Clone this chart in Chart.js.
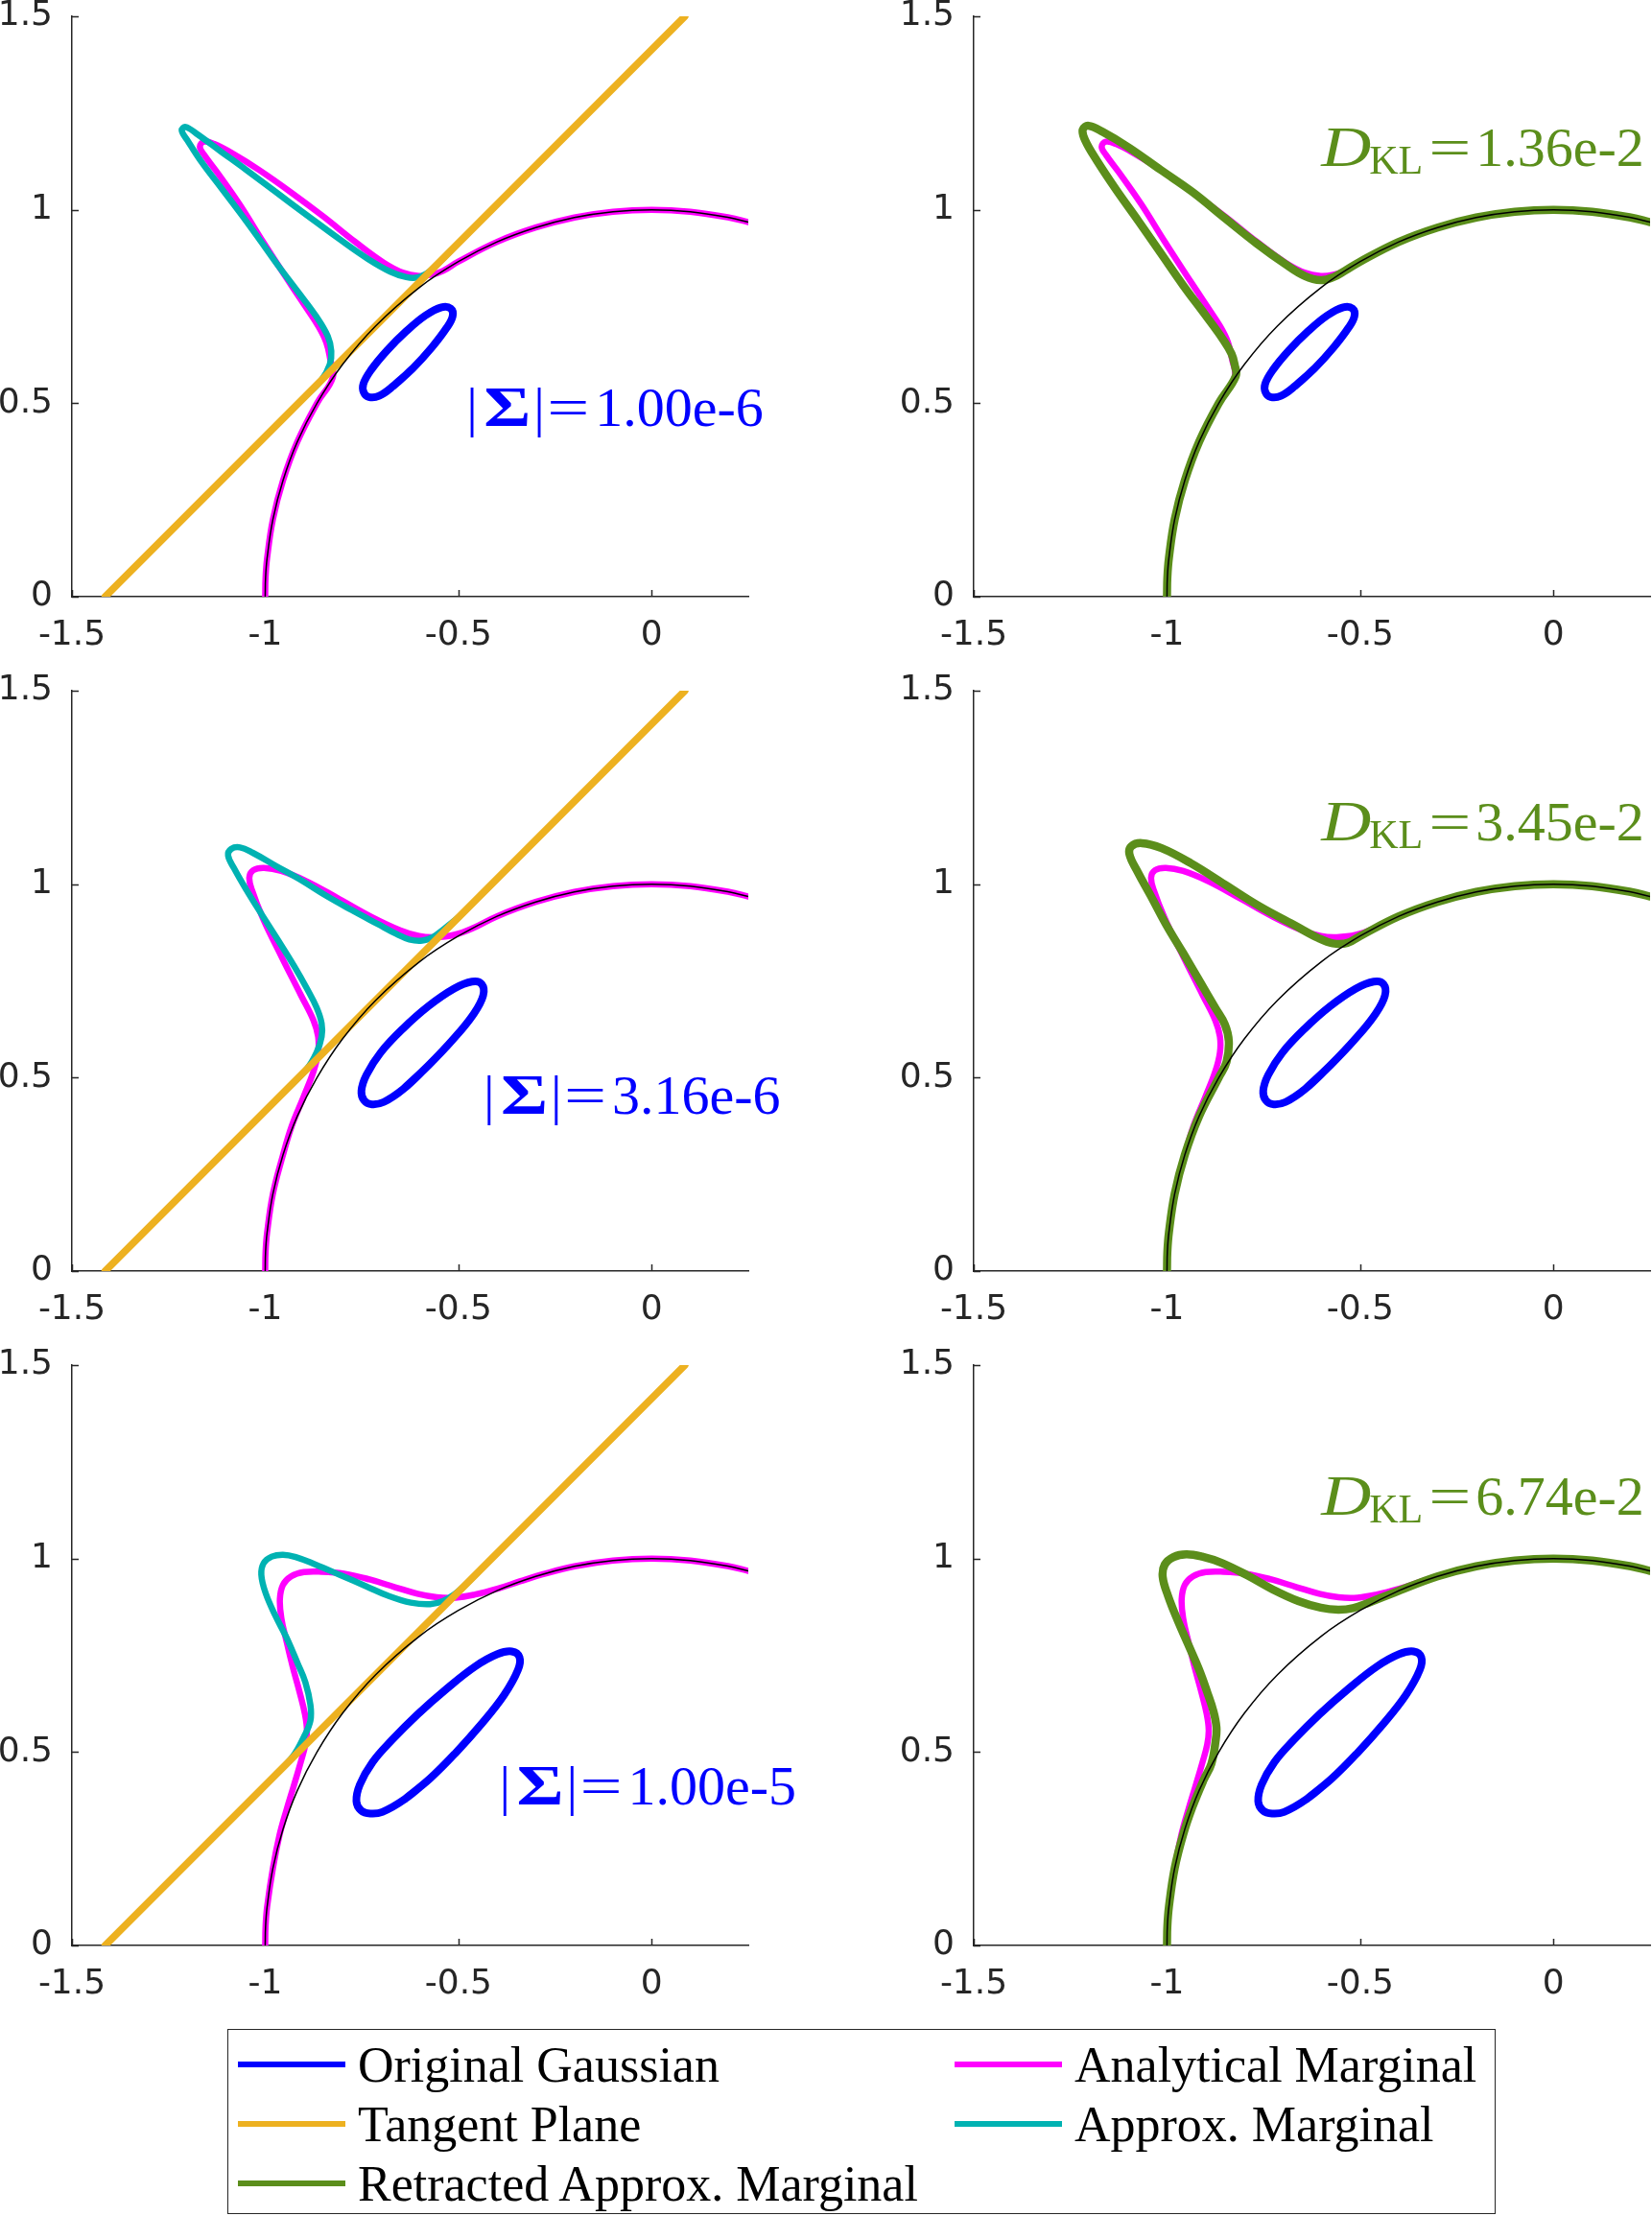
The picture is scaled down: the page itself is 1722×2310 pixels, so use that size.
<!DOCTYPE html>
<html>
<head>
<meta charset="utf-8">
<script src="https://cdn.jsdelivr.net/npm/chart.js@4.4.1/dist/chart.umd.min.js"></script>
<style>
  body { margin: 0; background: #fff; }
  #page { position: relative; width: 1722px; height: 2310px; overflow: hidden; background: #fff; }
  canvas { position: absolute; }
  #legendBox { position: absolute; left: 237px; top: 2115px; width: 1322px; height: 193px;
    border: 1.5px solid #262626; box-sizing: border-box; }
  .item { position: absolute; display: flex; align-items: center; height: 52px; white-space: nowrap;
    font-family: "Liberation Serif", serif; font-size: 52px; color: #000; }
  .swatch { width: 112px; height: 6px; margin-right: 13px; }
</style>
</head>
<body>
<div id="page">
  <canvas id="p1" width="860" height="708" style="left:0px;top:-26px"></canvas>
  <canvas id="p2" width="782" height="708" style="left:940px;top:-26px"></canvas>
  <canvas id="p3" width="860" height="708" style="left:0px;top:677px"></canvas>
  <canvas id="p4" width="782" height="708" style="left:940px;top:677px"></canvas>
  <canvas id="p5" width="860" height="708" style="left:0px;top:1380px"></canvas>
  <canvas id="p6" width="782" height="708" style="left:940px;top:1380px"></canvas>
  <div id="legendBox"></div>
</div>
<script>
// axis ticks
const xTicks = [-1.5, -1, -0.5, 0];
const yTicks = [0, 0.5, 1, 1.5];

// manifold (unit circle arc) and tangent plane
const arcPts = [[-1,0],[-0.999,0.05],[-0.995,0.1],[-0.98,0.2],[-0.954,0.3],[-0.917,0.4],[-0.866,0.5],[-0.8,0.6],[-0.714,0.7],[-0.6,0.8],[-0.5,0.866],[-0.4,0.917],[-0.3,0.954],[-0.2,0.98],[-0.1,0.995],[0,1],[0.1,0.995],[0.2,0.98],[0.25,0.968]];
const tangentPts = [[-1.414,0],[0.086,1.5]];

// row 1
const gauss1 = [[-0.668,0.545],[-0.618,0.59],[-0.569,0.644],[-0.531,0.694],[-0.515,0.725],[-0.52,0.745],[-0.544,0.748],[-0.585,0.727],[-0.635,0.686],[-0.685,0.636],[-0.726,0.586],[-0.746,0.55],[-0.745,0.528],[-0.732,0.516],[-0.705,0.519]];
const analytic1 = [[-1,0],[-0.999,0.05],[-0.995,0.1],[-0.98,0.2],[-0.954,0.3],[-0.917,0.4],[-0.866,0.5],[-0.825,0.567],[-0.832,0.615],[-0.842,0.657],[-0.862,0.698],[-0.9,0.756],[-0.949,0.83],[-1.008,0.921],[-1.065,1.012],[-1.123,1.095],[-1.158,1.142],[-1.169,1.163],[-1.158,1.176],[-1.132,1.17],[-1.082,1.144],[-1.016,1.103],[-0.933,1.045],[-0.85,0.983],[-0.767,0.917],[-0.693,0.863],[-0.643,0.837],[-0.602,0.829],[-0.57,0.832],[-0.54,0.842],[-0.5,0.866],[-0.4,0.917],[-0.3,0.954],[-0.2,0.98],[-0.1,0.995],[0,1],[0.1,0.995],[0.2,0.98],[0.25,0.968]];
const approx1 = [[-0.9,0.514],[-0.855,0.559],[-0.833,0.6],[-0.829,0.635],[-0.838,0.673],[-0.867,0.723],[-0.916,0.789],[-0.966,0.855],[-1.016,0.925],[-1.065,0.992],[-1.115,1.058],[-1.165,1.124],[-1.199,1.176],[-1.216,1.205],[-1.206,1.214],[-1.178,1.197],[-1.115,1.151],[-1.049,1.103],[-0.974,1.047],[-0.892,0.986],[-0.809,0.925],[-0.734,0.873],[-0.676,0.84],[-0.635,0.826],[-0.606,0.825],[-0.581,0.836],[-0.562,0.852],[-0.52,0.894]];
const retracted1 = [[-1,0],[-0.999,0.05],[-0.995,0.1],[-0.98,0.2],[-0.954,0.3],[-0.917,0.4],[-0.866,0.5],[-0.822,0.57],[-0.825,0.6],[-0.833,0.628],[-0.855,0.665],[-0.9,0.727],[-0.959,0.806],[-1.016,0.888],[-1.074,0.971],[-1.133,1.054],[-1.182,1.128],[-1.212,1.18],[-1.218,1.207],[-1.203,1.217],[-1.166,1.201],[-1.099,1.161],[-1.016,1.103],[-0.934,1.046],[-0.851,0.979],[-0.768,0.913],[-0.693,0.859],[-0.644,0.829],[-0.602,0.818],[-0.569,0.826],[-0.54,0.842],[-0.5,0.866],[-0.4,0.917],[-0.3,0.954],[-0.2,0.98],[-0.1,0.995],[0,1],[0.1,0.995],[0.2,0.98],[0.25,0.968]];

// row 2
const gauss2 = [[-0.643,0.47],[-0.577,0.532],[-0.511,0.602],[-0.461,0.664],[-0.436,0.712],[-0.44,0.742],[-0.465,0.748],[-0.511,0.73],[-0.577,0.685],[-0.643,0.627],[-0.701,0.565],[-0.738,0.507],[-0.751,0.466],[-0.744,0.441],[-0.724,0.431],[-0.693,0.437]];
const analytic2 = [[-1,0],[-0.999,0.05],[-0.995,0.1],[-0.98,0.2],[-0.954,0.3],[-0.931,0.376],[-0.9,0.452],[-0.875,0.516],[-0.863,0.565],[-0.863,0.606],[-0.875,0.648],[-0.908,0.714],[-0.958,0.813],[-1.006,0.912],[-1.034,0.984],[-1.041,1.017],[-1.031,1.036],[-1.003,1.042],[-0.958,1.034],[-0.892,1.007],[-0.809,0.962],[-0.726,0.916],[-0.651,0.881],[-0.602,0.866],[-0.561,0.863],[-0.511,0.869],[-0.461,0.887],[-0.4,0.917],[-0.3,0.954],[-0.2,0.98],[-0.1,0.995],[0,1],[0.1,0.995],[0.2,0.98],[0.25,0.968]];
const approx2 = [[-0.95,0.464],[-0.892,0.523],[-0.867,0.565],[-0.854,0.606],[-0.854,0.64],[-0.867,0.681],[-0.892,0.73],[-0.925,0.788],[-0.966,0.854],[-1.008,0.92],[-1.049,0.986],[-1.08,1.04],[-1.096,1.074],[-1.088,1.091],[-1.065,1.095],[-1.032,1.081],[-0.974,1.048],[-0.908,1.011],[-0.842,0.97],[-0.776,0.933],[-0.709,0.897],[-0.66,0.871],[-0.627,0.857],[-0.594,0.854],[-0.565,0.864],[-0.54,0.882],[-0.5,0.914]];
const retracted2 = [[-1,0],[-0.999,0.05],[-0.995,0.1],[-0.98,0.2],[-0.954,0.3],[-0.917,0.4],[-0.866,0.5],[-0.846,0.54],[-0.84,0.594],[-0.85,0.637],[-0.875,0.68],[-0.913,0.745],[-0.957,0.82],[-1.002,0.895],[-1.042,0.97],[-1.077,1.034],[-1.097,1.077],[-1.092,1.098],[-1.065,1.106],[-1.014,1.093],[-0.938,1.054],[-0.85,0.999],[-0.761,0.943],[-0.672,0.895],[-0.609,0.861],[-0.571,0.847],[-0.533,0.848],[-0.5,0.866],[-0.4,0.917],[-0.3,0.954],[-0.2,0.98],[-0.1,0.995],[0,1],[0.1,0.995],[0.2,0.98],[0.25,0.968]];

// row 3
const gauss3 = [[-0.639,0.378],[-0.573,0.432],[-0.507,0.498],[-0.44,0.573],[-0.382,0.647],[-0.346,0.712],[-0.342,0.745],[-0.362,0.76],[-0.399,0.753],[-0.457,0.721],[-0.531,0.663],[-0.606,0.597],[-0.672,0.531],[-0.722,0.474],[-0.755,0.416],[-0.764,0.373],[-0.752,0.349],[-0.728,0.341],[-0.697,0.345]];
const analytic3 = [[-1,0],[-0.999,0.05],[-0.995,0.1],[-0.98,0.2],[-0.963,0.285],[-0.945,0.35],[-0.925,0.416],[-0.908,0.474],[-0.896,0.519],[-0.892,0.556],[-0.897,0.597],[-0.911,0.655],[-0.929,0.721],[-0.945,0.787],[-0.958,0.845],[-0.962,0.895],[-0.954,0.932],[-0.933,0.954],[-0.9,0.965],[-0.854,0.966],[-0.796,0.961],[-0.73,0.946],[-0.664,0.926],[-0.606,0.909],[-0.556,0.9],[-0.507,0.899],[-0.457,0.907],[-0.399,0.922],[-0.341,0.941],[-0.283,0.959],[-0.2,0.98],[-0.1,0.995],[0,1],[0.1,0.995],[0.2,0.98],[0.25,0.968]];
const approx3 = [[-0.98,0.434],[-0.929,0.488],[-0.9,0.539],[-0.883,0.581],[-0.883,0.622],[-0.896,0.68],[-0.916,0.729],[-0.945,0.796],[-0.974,0.853],[-0.999,0.911],[-1.01,0.958],[-1.004,0.988],[-0.983,1.005],[-0.954,1.01],[-0.921,1.004],[-0.871,0.985],[-0.805,0.957],[-0.738,0.928],[-0.68,0.903],[-0.623,0.886],[-0.573,0.882],[-0.54,0.89],[-0.511,0.907],[-0.482,0.932],[-0.45,0.964]];
const retracted3 = [[-1,0],[-0.999,0.05],[-0.995,0.1],[-0.98,0.2],[-0.958,0.287],[-0.934,0.358],[-0.905,0.428],[-0.885,0.47],[-0.874,0.53],[-0.872,0.564],[-0.88,0.606],[-0.896,0.655],[-0.917,0.713],[-0.942,0.771],[-0.971,0.837],[-0.997,0.903],[-1.011,0.952],[-1.006,0.984],[-0.983,1.004],[-0.95,1.011],[-0.909,1.005],[-0.859,0.989],[-0.793,0.957],[-0.726,0.92],[-0.66,0.89],[-0.602,0.873],[-0.557,0.868],[-0.519,0.872],[-0.478,0.886],[-0.412,0.912],[-0.3,0.954],[-0.2,0.98],[-0.1,0.995],[0,1],[0.1,0.995],[0.2,0.98],[0.25,0.968]];

// annotation values
const sigmaDets = ["1.00e-6", "3.16e-6", "1.00e-5"];
const klValues = ["1.36e-2", "3.45e-2", "6.74e-2"];

const legendNames = ["Original Gaussian", "Analytical Marginal", "Tangent Plane", "Approx. Marginal", "Retracted Approx. Marginal"];

const BLUE = "#0000ff", MAGENTA = "#ff00ff", TEAL = "#00b2b2", YELLOW = "#edb120", GREEN = "#5b8e1b", AXIS = "#262626";
const legendColors = [BLUE, MAGENTA, YELLOW, TEAL, GREEN];

function toXY(pts) { return pts.map(p => ({ x: p[0], y: p[1] })); }
function closeLoop(pts) { return pts.concat(pts.slice(0, 2)); }

function line(pts, color, width, tension) {
  return {
    data: toXY(pts), showLine: true, borderColor: color, backgroundColor: color,
    borderWidth: width, pointRadius: 0, tension: tension, fill: false, clip: 0,
    borderCapStyle: "round", borderJoinStyle: "round"
  };
}

// inward tick marks like MATLAB axes
const inwardTicks = {
  id: "inwardTicks",
  beforeDatasetsDraw(chart) {
    const { ctx, chartArea, scales } = chart;
    ctx.save();
    ctx.strokeStyle = AXIS;
    ctx.lineWidth = 1.5;
    ctx.beginPath();
    xTicks.forEach(v => {
      const px = Math.round(scales.x.getPixelForValue(v)) + 0.5;
      ctx.moveTo(px, chartArea.bottom);
      ctx.lineTo(px, chartArea.bottom - 7);
    });
    yTicks.forEach(v => {
      const py = Math.round(scales.y.getPixelForValue(v)) + 0.5;
      ctx.moveTo(chartArea.left, py);
      ctx.lineTo(chartArea.left + 7, py);
    });
    ctx.stroke();
    ctx.restore();
  }
};

// text stretched horizontally (TeX glyphs are wider than Times)
function wideText(ctx, str, x, y, sx) {
  ctx.save();
  ctx.translate(x, y);
  ctx.scale(sx, 1);
  ctx.fillText(str, 0, 0);
  ctx.restore();
}

function sigmaLabel(text, ax, ay) {
  return {
    id: "sigmaLabel",
    afterDatasetsDraw(chart) {
      const ctx = chart.ctx;
      const x0 = chart.scales.x.getPixelForValue(ax);
      const y0 = chart.scales.y.getPixelForValue(ay);
      ctx.save();
      ctx.fillStyle = BLUE;
      ctx.textBaseline = "alphabetic";
      ctx.textAlign = "left";
      ctx.font = '58px "Liberation Serif"';
      ctx.fillText("|", x0, y0);
      ctx.font = 'bold 60px "Liberation Serif"';
      wideText(ctx, "\u03A3", x0 + 18, y0, 1.25);
      ctx.font = '58px "Liberation Serif"';
      ctx.fillText("|", x0 + 70, y0);
      wideText(ctx, "=", x0 + 84, y0, 1.35);
      ctx.fillText(text, x0 + 134, y0);
      ctx.restore();
    }
  };
}

function klLabel(text, ax, ay) {
  return {
    id: "klLabel",
    afterDatasetsDraw(chart) {
      const ctx = chart.ctx;
      const x0 = chart.scales.x.getPixelForValue(ax);
      const y0 = chart.scales.y.getPixelForValue(ay);
      ctx.save();
      ctx.fillStyle = GREEN;
      ctx.textBaseline = "alphabetic";
      ctx.textAlign = "left";
      ctx.font = 'italic 60px "Liberation Serif"';
      wideText(ctx, "D", x0, y0, 1.2);
      ctx.font = '42px "Liberation Serif"';
      ctx.fillText("KL", x0 + 50, y0 + 8);
      ctx.font = '58px "Liberation Serif"';
      wideText(ctx, "=", x0 + 112, y0, 1.35);
      ctx.fillText(text, x0 + 161, y0);
      ctx.restore();
    }
  };
}

function makePanel(id, datasets, padRight, label) {
  const tickFont = { family: "DejaVu Sans", size: 36 };
  new Chart(document.getElementById(id), {
    type: "scatter",
    data: { datasets: datasets },
    options: {
      responsive: false,
      animation: false,
      devicePixelRatio: 1,
      events: [],
      layout: { padding: { top: 43, right: padRight, left: 0, bottom: 0 } },
      plugins: { legend: { display: false }, tooltip: { enabled: false } },
      scales: {
        x: {
          type: "linear", min: -1.5, max: 0.25,
          afterBuildTicks: s => { s.ticks = xTicks.map(v => ({ value: v })); },
          afterFit: s => { s.height = 60; },
          grid: { display: false, drawTicks: false },
          border: { display: true, color: AXIS, width: 1.5 },
          ticks: { padding: 19, font: tickFont, color: AXIS, maxRotation: 0, autoSkip: false, callback: v => String(v) }
        },
        y: {
          type: "linear", min: 0, max: 1.5,
          afterBuildTicks: s => { s.ticks = yTicks.map(v => ({ value: v })); },
          afterFit: s => { s.width = 75; },
          grid: { display: false, drawTicks: false },
          border: { display: true, color: AXIS, width: 1.5 },
          ticks: { padding: 20, font: tickFont, color: AXIS, autoSkip: false, callback: v => String(v) }
        }
      }
    },
    plugins: [inwardTicks, label]
  });
}

function leftPanel(id, gauss, analytic, approx, sigmaText, ax, ay) {
  makePanel(id, [
    line(closeLoop(gauss), BLUE, 8, 0.4),
    line(arcPts, "#000000", 1.5, 0.4),
    line(tangentPts, YELLOW, 7.5, 0),
    line(approx, TEAL, 6.5, 0.4),
    line(analytic, MAGENTA, 6.5, 0.4)
  ], 80, sigmaLabel(sigmaText, ax, ay));
}

function rightPanel(id, gauss, analytic, retracted, klText) {
  makePanel(id, [
    line(closeLoop(gauss), BLUE, 8, 0.4),
    line(arcPts, "#000000", 1.5, 0.4),
    line(retracted, GREEN, 8.5, 0.4),
    line(analytic, MAGENTA, 6.5, 0.4)
  ], 2, klLabel(klText, -0.601, 1.112));
}

function buildLegend() {
  const page = document.getElementById("page");
  const slots = [[248, 2126], [995, 2126], [248, 2188], [995, 2188], [248, 2250]];
  legendNames.forEach((name, i) => {
    const item = document.createElement("div");
    item.className = "item";
    item.style.left = slots[i][0] + "px";
    item.style.top = slots[i][1] + "px";
    const sw = document.createElement("span");
    sw.className = "swatch";
    sw.style.background = legendColors[i];
    const tx = document.createElement("span");
    tx.textContent = name;
    item.appendChild(sw);
    item.appendChild(tx);
    page.appendChild(item);
  });
}

function build() {
  leftPanel("p1", gauss1, analytic1, approx1, sigmaDets[0], -0.479, 0.442);
  rightPanel("p2", gauss1, analytic1, retracted1, klValues[0]);
  leftPanel("p3", gauss2, analytic2, approx2, sigmaDets[1], -0.435, 0.406);
  rightPanel("p4", gauss2, analytic2, retracted2, klValues[1]);
  leftPanel("p5", gauss3, analytic3, approx3, sigmaDets[2], -0.394, 0.365);
  rightPanel("p6", gauss3, analytic3, retracted3, klValues[2]);
  buildLegend();
}

Promise.all([
  document.fonts.load('36px "DejaVu Sans"'),
  document.fonts.load('58px "Liberation Serif"'),
  document.fonts.load('bold 58px "Liberation Serif"'),
  document.fonts.load('italic 58px "Liberation Serif"')
]).then(build, build);
</script>
</body>
</html>
